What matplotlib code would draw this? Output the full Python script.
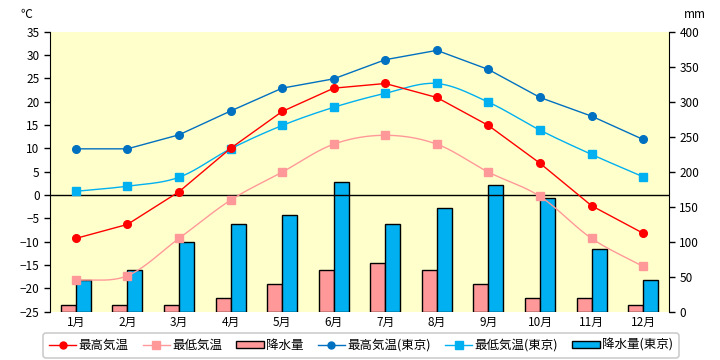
import numpy as np
import matplotlib
matplotlib.use("Agg")
import matplotlib.pyplot as plt
from matplotlib.patches import Patch
from matplotlib.lines import Line2D

plt.rcParams['font.family'] = ['Noto Sans CJK JP', 'DejaVu Sans']

months = ["1月", "2月", "3月", "4月", "5月", "6月", "7月", "8月", "9月", "10月", "11月", "12月"]
max_temp = [-9.3, -6.3, 0.7, 10.0, 17.9, 22.9, 23.9, 20.9, 14.9, 6.8, -2.3, -8.2]
min_temp = [-18.3, -17.3, -9.3, -1.1, 4.9, 10.9, 12.8, 10.9, 4.9, -0.3, -9.3, -15.3]
precip = [9, 10, 10, 19, 39, 59, 69, 60, 40, 19, 19, 9]
tokyo_max = [9.9, 9.9, 12.9, 18.0, 22.9, 24.9, 29.0, 31.0, 26.9, 20.9, 16.9, 11.9]
tokyo_min = [0.8, 1.9, 3.8, 9.9, 14.9, 18.8, 21.8, 23.9, 19.9, 13.9, 8.7, 3.9]
tokyo_precip = [45, 59, 99, 125, 138, 185, 126, 148, 181, 163, 89, 45]

labels = ["最高気温", "最低気温", "降水量", "最高気温(東京)", "最低気温(東京)", "降水量(東京)"]

C_RED = "#FF0000"
C_PINK = "#FF9999"
C_DBLUE = "#0070C0"
C_LBLUE = "#00B0F0"
BG = "#FFFFCC"


def smooth(x, y, n=20):
    x = np.asarray(x, float)
    y = np.asarray(y, float)
    px = np.concatenate([[2 * x[0] - x[1]], x, [2 * x[-1] - x[-2]]])
    py = np.concatenate([[2 * y[0] - y[1]], y, [2 * y[-1] - y[-2]]])
    xs, ys = [], []
    for i in range(1, len(px) - 2):
        t = np.linspace(0, 1, n, endpoint=False)
        for P, out in ((px, xs), (py, ys)):
            p0, p1, p2, p3 = P[i - 1], P[i], P[i + 1], P[i + 2]
            out.extend(0.5 * ((2 * p1) + (-p0 + p2) * t + (2 * p0 - 5 * p1 + 4 * p2 - p3) * t ** 2
                              + (-p0 + 3 * p1 - 3 * p2 + p3) * t ** 3))
    xs.append(x[-1])
    ys.append(y[-1])
    return np.array(xs), np.array(ys)


fig = plt.figure(figsize=(7.2, 3.6), dpi=100)
ax = fig.add_axes([50 / 720, (360 - 311.7) / 360, (669 - 50) / 720, 280 / 360])
ax2 = ax.twinx()

x = np.arange(len(months))
bw = 0.29
ax2.bar(x - bw / 2, precip, width=bw, color=C_PINK, edgecolor="black", linewidth=1.0, zorder=2)
ax2.bar(x + bw / 2, tokyo_precip, width=bw, color=C_LBLUE, edgecolor="black", linewidth=1.0, zorder=2)
ax2.set_ylim(0, 400)
ax2.set_yticks(np.arange(0, 401, 50))

ax.set_zorder(ax2.get_zorder() + 1)
ax.patch.set_visible(False)
ax2.patch.set_visible(True)
ax2.patch.set_facecolor(BG)

ax.set_ylim(-25, 35)
ax.set_yticks(np.arange(-25, 36, 5))
ax.set_xlim(-0.5, 11.5)
ax.set_xticks(x)
ax.set_xticklabels(months)
ax.axhline(0, color="black", linewidth=1.0, zorder=1)

ms = 5.5
ax.plot(x, max_temp, color=C_RED, lw=1.0, marker="o", ms=ms, zorder=5)
sx, sy = smooth(x, min_temp)
ax.plot(sx, sy, color=C_PINK, lw=1.0, zorder=4)
ax.plot(x, min_temp, ls="none", color=C_PINK, marker="s", ms=ms, zorder=4)
ax.plot(x, tokyo_max, color=C_DBLUE, lw=1.0, marker="o", ms=ms, zorder=5)
sx, sy = smooth(x, tokyo_min)
ax.plot(sx, sy, color=C_LBLUE, lw=1.0, zorder=4)
ax.plot(x, tokyo_min, ls="none", color=C_LBLUE, marker="s", ms=ms, zorder=4)

for a in (ax, ax2):
    a.spines["top"].set_visible(False)
    a.spines["bottom"].set_visible(False)
    a.tick_params(labelsize=8.5, length=4, width=1, color="black")
ax.spines["right"].set_visible(False)
ax2.spines["left"].set_visible(False)
ax.tick_params(axis="x", length=0, pad=3)

fig.text(20 / 720, 1 - 14 / 360, "℃", fontsize=8.5, ha="left", va="center")
fig.text(706 / 720, 1 - 14 / 360, "mm", fontsize=8.5, ha="right", va="center")

handles = [
    Line2D([], [], color=C_RED, marker="o", ms=5, lw=1),
    Line2D([], [], color=C_PINK, marker="s", ms=6, lw=1),
    Patch(facecolor=C_PINK, edgecolor="black"),
    Line2D([], [], color=C_DBLUE, marker="o", ms=5, lw=1),
    Line2D([], [], color=C_LBLUE, marker="s", ms=6, lw=1),
    Patch(facecolor=C_LBLUE, edgecolor="black"),
]
leg = fig.legend(handles, labels, loc="center", bbox_to_anchor=(361 / 720, 1 - 345.5 / 360), ncol=6,
                 fontsize=9, frameon=True, fancybox=True, handlelength=2.2, handleheight=0.45,
                 handletextpad=0.2, columnspacing=1.1, borderpad=0.45)
leg.get_frame().set_edgecolor("#C0C0C0")
leg.get_frame().set_linewidth(1.2)

fig.savefig("out.png", dpi=100, facecolor="white")
